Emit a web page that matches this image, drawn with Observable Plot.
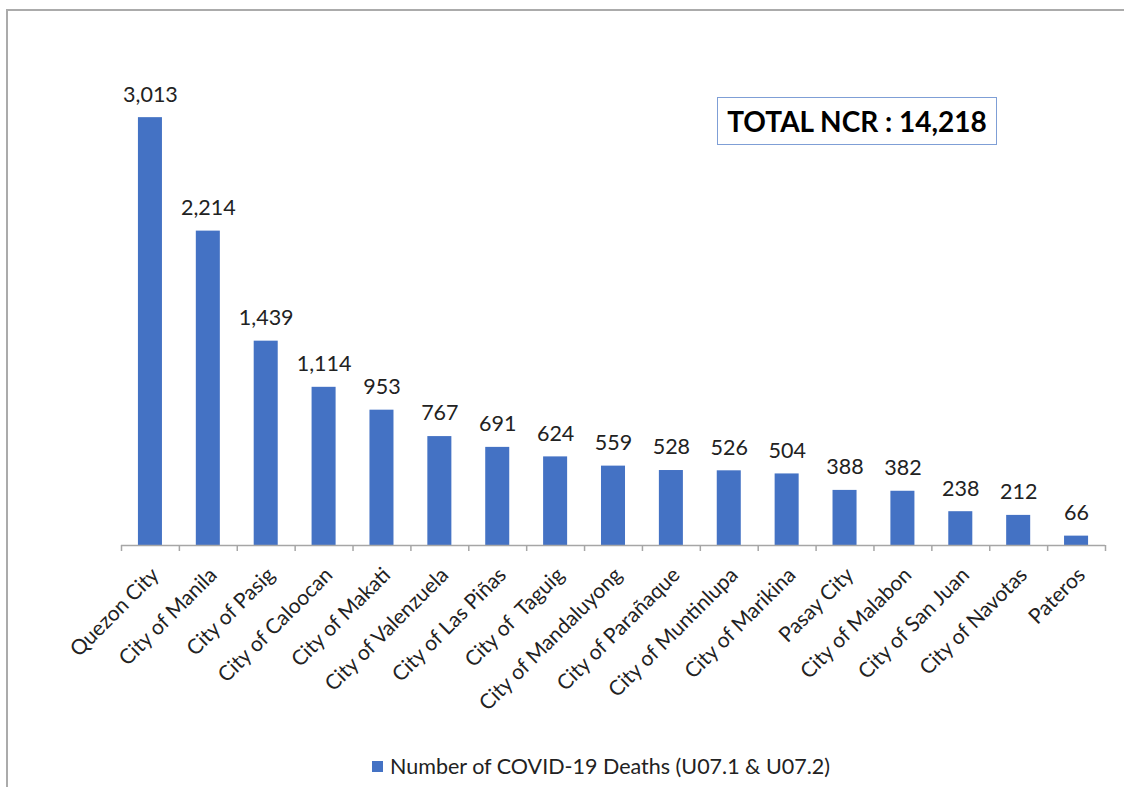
<!DOCTYPE html>
<html><head><meta charset="utf-8">
<script src="https://cdn.jsdelivr.net/npm/d3@7"></script>
<script src="https://cdn.jsdelivr.net/npm/@observablehq/plot@0.6"></script>
<style>
body{margin:0;background:#fff;font-family:Lato,sans-serif;}
#wrap{position:relative;width:1124px;height:787px;overflow:hidden;}
#frame{position:absolute;left:6px;top:9px;width:1200px;height:900px;border-top:2px solid #ababab;border-left:2px solid #ababab;pointer-events:none;}
#total{position:absolute;left:717px;top:97px;width:280px;height:48px;border:1.5px solid #7f9fd6;display:flex;align-items:center;justify-content:center;font-weight:700;font-size:28px;color:#000;box-sizing:border-box;}
#legend{height:42px;display:flex;align-items:center;padding-left:372px;font-size:21.5px;color:#222;}
.sw{width:11px;height:11px;background:#4472C4;margin-right:7px;}
#chart svg{display:block;}
</style></head><body>
<div id="wrap"><div id="chart"></div><div id="legend"></div><div id="frame"></div><div id="total"></div></div>
<script>
const cities = ["Quezon City","City of Manila","City of Pasig","City of Caloocan","City of Makati","City of Valenzuela","City of Las Piñas","City of  Taguig","City of Mandaluyong","City of Parañaque","City of Muntinlupa","City of Marikina","Pasay City","City of Malabon","City of San Juan","City of Navotas","Pateros"];
const deaths = [3013,2214,1439,1114,953,767,691,624,559,528,526,504,388,382,238,212,66];
const totalLabel = "TOTAL NCR : ";
const totalValue = 14218;
const seriesName = "Number of COVID-19 Deaths (U07.1 & U07.2)";
const barColor = "#4472C4";

const data = cities.map((c, i) => ({city: c, deaths: deaths[i]}));
const W = 1124, H = 745, mL = 121, mR = 19;
const step = (W - mL - mR) / cities.length;
const fmt = d3.format(",");

const plot = Plot.plot({
  width: W, height: H,
  marginLeft: mL, marginRight: mR, marginTop: 48, marginBottom: 200,
  style: {fontFamily: "Lato, sans-serif", background: "transparent", color: "#222"},
  x: {domain: cities, paddingInner: 0.585, paddingOuter: 0.2925, round: false, axis: null},
  y: {domain: [0, 3500], axis: null},
  marks: [
    Plot.barY(data, {x: "city", y: "deaths", fill: barColor}),
    Plot.ruleY([0], {stroke: "#a6a6a6", strokeWidth: 1.5}),
    Plot.axisX({ticks: cities, tickSize: 6, dx: -step / 2, tickFormat: () => "", label: null, stroke: "#a6a6a6", strokeWidth: 1.5}),
    Plot.axisX({ticks: [cities[cities.length - 1]], tickSize: 6, dx: step / 2, tickFormat: () => "", label: null, stroke: "#a6a6a6", strokeWidth: 1.5}),
    Plot.axisX({tickSize: 0, tickPadding: 26, dx: 5, tickRotate: -45, fontSize: 21, fill: "#222", label: null}),
    Plot.text(data, {x: "city", y: "deaths", text: d => fmt(d.deaths), dy: -23, fontSize: 21.5, fill: "#222"})
  ]
});
document.getElementById("chart").appendChild(plot);
document.getElementById("total").textContent = totalLabel + fmt(totalValue);
const lg = document.getElementById("legend");
const sw = document.createElement("span"); sw.className = "sw";
const tx = document.createElement("span"); tx.textContent = seriesName;
lg.appendChild(sw); lg.appendChild(tx);
</script>
</body></html>
